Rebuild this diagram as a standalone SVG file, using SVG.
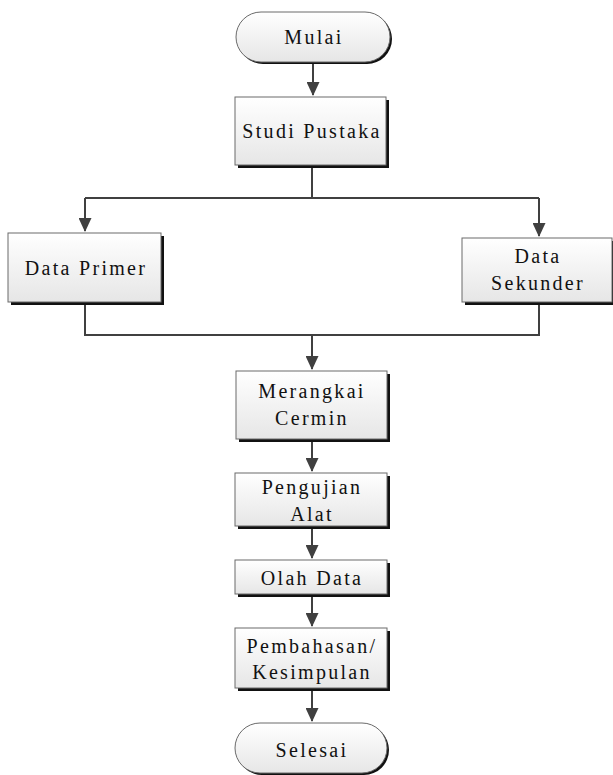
<svg xmlns="http://www.w3.org/2000/svg" width="613" height="775" viewBox="0 0 613 775">
<defs>
<linearGradient id="g" x1="0" y1="0" x2="0" y2="1">
<stop offset="0" stop-color="#ffffff"/>
<stop offset="1" stop-color="#e6e6e6"/>
</linearGradient>
<marker id="ah" markerWidth="14" markerHeight="13" refX="13" refY="6.5" orient="auto" markerUnits="userSpaceOnUse">
<path d="M0,0 L14,6.5 L0,13 z" fill="#404040"/>
</marker>
<style>
.sh{fill:#111;}
.bx{fill:url(#g);stroke:#6a6a6a;stroke-width:1;}
.t{font-family:"Liberation Serif","Times New Roman",serif;font-size:20px;letter-spacing:2.3px;fill:#111;text-anchor:middle;}
.c{fill:none;stroke:#404040;stroke-width:2;}
</style>
</defs>
<rect width="613" height="775" fill="#fff"/>
<g id="connectors">
<path class="c" d="M313,63 V95" marker-end="url(#ah)"/>
<path class="c" d="M312,165 V198 M85,198 H539"/>
<path class="c" d="M85,198 V231" marker-end="url(#ah)"/>
<path class="c" d="M539,198 V236" marker-end="url(#ah)"/>
<path class="c" d="M85,302 V335 H539 V302"/>
<path class="c" d="M312,335 V369" marker-end="url(#ah)"/>
<path class="c" d="M312,439 V471" marker-end="url(#ah)"/>
<path class="c" d="M312,526 V558" marker-end="url(#ah)"/>
<path class="c" d="M312,594 V626" marker-end="url(#ah)"/>
<path class="c" d="M312,688 V721" marker-end="url(#ah)"/>
</g>
<g id="mulai">
<rect class="sh" x="238" y="14" width="154" height="50" rx="25"/>
<rect class="bx" x="236" y="12" width="154" height="50" rx="25"/>
<text class="t" x="314" y="44">Mulai</text>
</g>
<g id="studi">
<rect class="sh" x="238" y="100" width="151" height="68"/>
<rect class="bx" x="235" y="97" width="151" height="68"/>
<text class="t" x="312" y="138">Studi Pustaka</text>
</g>
<g id="primer">
<rect class="sh" x="11" y="236" width="153" height="69"/>
<rect class="bx" x="8" y="233" width="153" height="69"/>
<text class="t" x="86" y="275">Data Primer</text>
</g>
<g id="sekunder">
<rect class="sh" x="465" y="241" width="150" height="64"/>
<rect class="bx" x="462" y="238" width="150" height="64"/>
<text class="t" x="538" y="263">Data</text>
<text class="t" x="538" y="290">Sekunder</text>
</g>
<g id="merangkai">
<rect class="sh" x="239" y="374" width="151" height="68"/>
<rect class="bx" x="236" y="371" width="151" height="68"/>
<text class="t" x="312" y="398">Merangkai</text>
<text class="t" x="312" y="425">Cermin</text>
</g>
<g id="pengujian">
<rect class="sh" x="238" y="476" width="152" height="53"/>
<rect class="bx" x="235" y="473" width="152" height="53"/>
<text class="t" x="312" y="494">Pengujian</text>
<text class="t" x="312" y="521">Alat</text>
</g>
<g id="olah">
<rect class="sh" x="238" y="563" width="152" height="34"/>
<rect class="bx" x="235" y="560" width="152" height="34"/>
<text class="t" x="312" y="585">Olah Data</text>
</g>
<g id="pembahasan">
<rect class="sh" x="238" y="631" width="152" height="60"/>
<rect class="bx" x="235" y="628" width="152" height="60"/>
<text class="t" x="312" y="653">Pembahasan/</text>
<text class="t" x="312" y="679">Kesimpulan</text>
</g>
<g id="selesai">
<rect class="sh" x="237" y="725" width="152" height="50" rx="25"/>
<rect class="bx" x="235" y="723" width="152" height="50" rx="25"/>
<text class="t" x="312" y="757">Selesai</text>
</g>
</svg>
